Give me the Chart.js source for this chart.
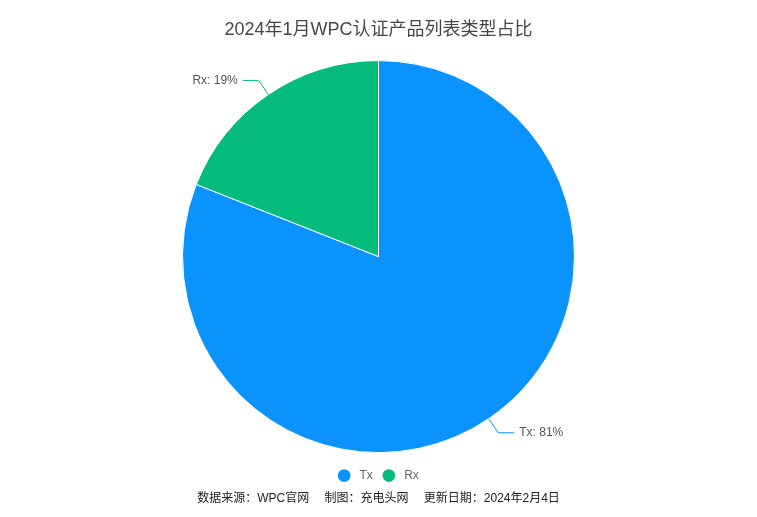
<!DOCTYPE html>
<html>
<head>
<meta charset="utf-8">
<script src="https://cdn.jsdelivr.net/npm/chart.js@4"></script>
<style>
  html, body { margin: 0; padding: 0; background: #fff; }
  #wrap { width: 757px; height: 517px; }
</style>
</head>
<body>
<div id="wrap"><canvas id="myPieChart"></canvas></div>
<script>
const categories = ['Tx', 'Rx'];
const shares = [81, 19];
const sliceColors = ['#0b93fd', '#06bc7c'];

const FONT = '"Liberation Sans", Arial, "Noto Sans CJK SC", sans-serif';

// ECharts-style outside labels with leader lines
const outsideLabels = {
    id: 'outsideLabels',
    afterDatasetsDraw(chart) {
        const ctx = chart.ctx;
        const meta = chart.getDatasetMeta(0);
        meta.data.forEach(function (arc, i) {
            const mid = (arc.startAngle + arc.endAngle) / 2;
            const r = arc.outerRadius;
            const x0 = arc.x + Math.cos(mid) * r;
            const y0 = arc.y + Math.sin(mid) * r;
            const x1 = arc.x + Math.cos(mid) * (r + 17);
            const y1 = arc.y + Math.sin(mid) * (r + 17);
            const dir = Math.cos(mid) >= 0 ? 1 : -1;
            const x2 = x1 + dir * 16;
            ctx.save();
            ctx.strokeStyle = sliceColors[i];
            ctx.lineWidth = 1;
            ctx.beginPath();
            ctx.moveTo(x0, y0);
            ctx.lineTo(x1, y1);
            ctx.lineTo(x2, y1);
            ctx.stroke();
            ctx.fillStyle = '#555';
            ctx.font = '12px ' + FONT;
            ctx.textBaseline = 'middle';
            ctx.textAlign = dir > 0 ? 'left' : 'right';
            ctx.fillText(categories[i] + ': ' + shares[i] + '%', x2 + dir * 5, y1);
            ctx.restore();
        });
    }
};

const data = {
    labels: categories,
    datasets: [{
        data: shares,
        backgroundColor: sliceColors,
        borderColor: '#ffffff',
        borderWidth: 1,
        radius: 196
    }]
};

const config = {
    type: 'pie',
    data: data,
    options: {
        responsive: true,
        maintainAspectRatio: false,
        animation: false,
        layout: { padding: { top: 0, bottom: 8 } },
        plugins: {
            title: {
                display: true,
                text: '2024年1月WPC认证产品列表类型占比',
                color: '#464646',
                font: { size: 18, family: FONT, weight: 'normal' },
                padding: { top: 19, bottom: 13 }
            },
            subtitle: {
                display: true,
                position: 'bottom',
                text: '数据来源：WPC官网　 制图：充电头网　 更新日期：2024年2月4日',
                color: '#222',
                font: { size: 12, family: FONT },
                padding: { top: 0, bottom: 3 }
            },
            legend: {
                position: 'bottom',
                labels: {
                    usePointStyle: true,
                    pointStyle: 'circle',
                    boxHeight: 9,
                    color: '#666',
                    font: { size: 12, family: FONT },
                    padding: 10,
                    generateLabels: function (chart) {
                        return categories.map(function (name, i) {
                            return {
                                text: ' ' + name,
                                fillStyle: sliceColors[i],
                                strokeStyle: sliceColors[i],
                                lineWidth: 0,
                                pointStyle: 'circle',
                                fontColor: '#666',
                                hidden: false,
                                index: i
                            };
                        });
                    }
                }
            },
            tooltip: { enabled: false }
        }
    },
    plugins: [outsideLabels]
};

const myPieChart = new Chart(document.getElementById('myPieChart'), config);
</script>
</body>
</html>
